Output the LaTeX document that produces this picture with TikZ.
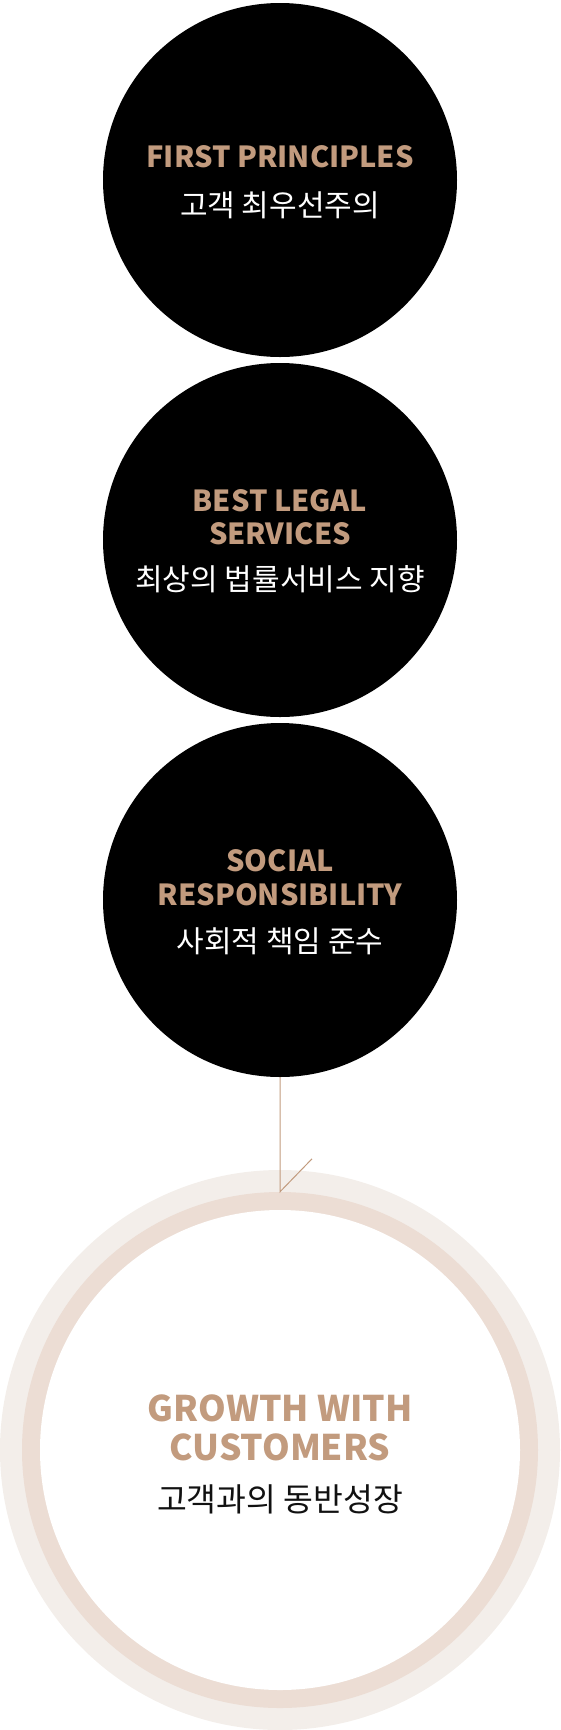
\documentclass[tikz,border=0pt]{standalone}
\usepackage{fontspec}
\usetikzlibrary{calc}
\newfontfamily\kr{Noto Sans CJK KR}
\definecolor{tanc}{HTML}{C29B7E}
\definecolor{ringlight}{HTML}{F3EEEA}
\definecolor{ringdark}{HTML}{ECDDD4}
\definecolor{subdark}{HTML}{111111}
\begin{document}
\begin{tikzpicture}[x=1pt,y=-1pt,
  blackdot/.style={circle,fill=black,minimum size=354pt,inner sep=0pt},
  ttl/.style={text=tanc,font=\kr\bfseries\fontsize{29}{33}\selectfont,anchor=base,inner sep=0pt},
  bigttl/.style={text=tanc,font=\kr\bfseries\fontsize{35.3}{40}\selectfont,anchor=base,inner sep=0pt},
  sub/.style={text=white,font=\kr\fontsize{30}{33}\selectfont,anchor=base,inner sep=0pt},
  bigsub/.style={text=subdark,font=\kr\fontsize{32.4}{35}\selectfont,anchor=base,inner sep=0pt},
  conn/.style={draw=tanc,line width=1pt}]
\useasboundingbox (0,0) rectangle (560,1730);
% black circles
\node[blackdot] (c1) at (280,180) {};
\node[blackdot] (c2) at (280,540) {};
\node[blackdot] (c3) at (280,900) {};
% rings
\node[circle,fill=ringlight,minimum size=560pt,inner sep=0pt] (outer) at (280,1450) {};
\node[circle,fill=ringdark,minimum size=516pt,inner sep=0pt] (ring) at (280,1450) {};
\node[circle,fill=white,minimum size=480pt,inner sep=0pt] (inner) at (280,1450) {};
% texts
\node[ttl] (t1) at (280,167.7) {FIRST PRINCIPLES};
\node[sub] (k1) at (280,216) {고객 최우선주의};
\node[ttl] (t2a) at (280,511.7) {BEST LEGAL};
\node[ttl] (t2b) at (280,544.3) {SERVICES};
\node[sub] (k2) at (280,590) {최상의 법률서비스 지향};
\node[ttl] (t3a) at (280,871.7) {SOCIAL};
\node[ttl] (t3b) at (280,905) {RESPONSIBILITY};
\node[sub] (k3) at (280,952) {사회적 책임 준수};
\node[bigttl] (t4a) at (280,1421.7) {GROWTH WITH};
\node[bigttl] (t4b) at (280,1460) {CUSTOMERS};
\node[bigsub] (k4) at (280,1511) {고객과의 동반성장};
% connector
\coordinate (tick) at ($(ring.north)+(32,-33)$);
\draw[conn] (c3.south) -- (ring.north) -- (tick);
\end{tikzpicture}
\end{document}
